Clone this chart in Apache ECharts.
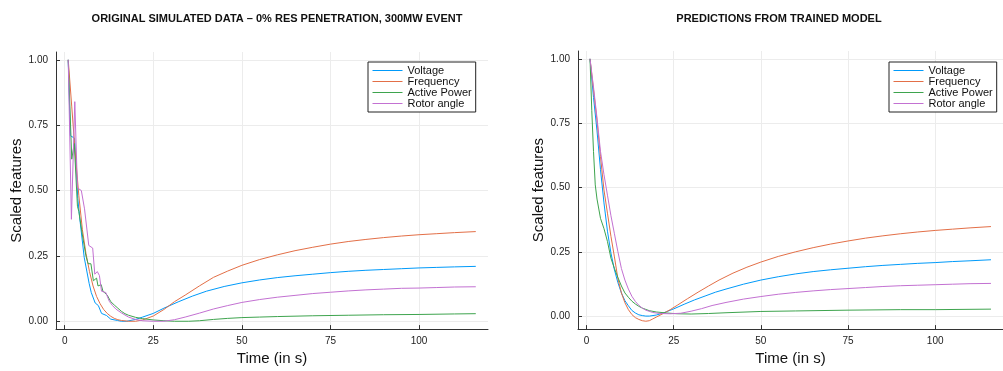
<!DOCTYPE html>
<html>
<head>
<meta charset="utf-8">
<script src="https://cdn.jsdelivr.net/npm/echarts@6/dist/echarts.min.js"></script>
<style>
  html, body { margin: 0; padding: 0; background: #fff; }
  #chart { width: 1003px; height: 371px; }
</style>
</head>
<body>
<div id="chart"></div>
<script>
// Feature names, shared by both panels
const seriesNames = ['Voltage', 'Frequency', 'Active Power', 'Rotor angle'];
const seriesColors = ['#009AFA', '#E36F47', '#3EA44E', '#C371D2'];

// Tick values
const xTicks = [0, 25, 50, 75, 100];
const yTicks = [0, 0.25, 0.5, 0.75, 1.0];

// Panel titles
const titleLeft = 'ORIGINAL SIMULATED DATA \u2013 0% RES PENETRATION, 300MW EVENT';
const titleRight = 'PREDICTIONS FROM TRAINED MODEL';

// Original simulated data: [time (s), scaled value]
const origVoltage = [[1,1.0],[1.6,0.71],[2.8,0.70],[3.7,0.47],[4.2,0.40],[5.5,0.245],[6.9,0.145],[7.5,0.11],[8.6,0.07],[9.5,0.06],[10.4,0.03],[11.8,0.022],[13,0.008],[14.9,0.003],[16,0.0],[17.5,0.0],[20,0.007],[22,0.016],[25,0.03],[28,0.05],[32,0.074],[36,0.096],[40,0.115],[45,0.133],[50,0.147],[55,0.158],[60,0.167],[65,0.174],[70,0.18],[75,0.186],[80,0.191],[85,0.195],[90,0.198],[95,0.201],[100,0.204],[105,0.206],[110,0.208],[116,0.21]];
const origFrequency = [[1,1.0],[2,0.82],[3,0.64],[4,0.48],[5,0.35],[6,0.26],[7,0.19],[8,0.135],[9,0.095],[10,0.067],[11,0.045],[12,0.03],[13,0.019],[14,0.011],[15,0.006],[16,0.003],[18,0.0],[20,0.0],[22,0.005],[25,0.02],[28,0.045],[31,0.075],[34,0.1],[38,0.135],[42,0.168],[46,0.192],[50,0.214],[55,0.236],[60,0.254],[65,0.27],[70,0.283],[75,0.295],[80,0.305],[85,0.313],[90,0.32],[95,0.326],[100,0.331],[105,0.335],[110,0.339],[116,0.343]];
const origActivePower = [[1,1.0],[2,0.62],[2.7,0.68],[3.6,0.44],[4,0.42],[5,0.33],[6,0.25],[6.6,0.22],[7.4,0.22],[8.1,0.155],[9,0.165],[9.4,0.135],[10.3,0.14],[10.8,0.115],[12,0.10],[13,0.075],[14,0.062],[15,0.05],[16,0.038],[17,0.029],[18,0.023],[20,0.015],[22,0.01],[25,0.005],[28,0.002],[31,0.0],[35,0.0],[38,0.002],[42,0.007],[46,0.011],[50,0.014],[55,0.016],[60,0.018],[70,0.021],[80,0.023],[90,0.025],[100,0.026],[110,0.028],[116,0.029]];
const origRotorAngle = [[1,1.0],[1.9,0.39],[2.85,0.84],[3.6,0.51],[4.1,0.51],[4.7,0.50],[5.6,0.43],[6.8,0.29],[7.9,0.28],[8.5,0.18],[9.2,0.19],[9.8,0.175],[10.4,0.115],[11.6,0.11],[12.6,0.076],[13.5,0.06],[14.5,0.046],[16,0.032],[18,0.016],[20,0.007],[22,0.002],[25,0.0],[28,0.0],[31,0.006],[34,0.016],[38,0.031],[42,0.047],[46,0.06],[50,0.072],[55,0.083],[60,0.092],[65,0.099],[70,0.106],[75,0.111],[80,0.116],[85,0.12],[90,0.123],[95,0.126],[100,0.127],[105,0.129],[110,0.131],[116,0.132]];

// Trained model predictions: [time (s), scaled value]
const predVoltage = [[1,1.0],[2,0.85],[3,0.72],[4,0.57],[5,0.44],[6,0.33],[7,0.245],[8,0.18],[9,0.13],[10,0.09],[11,0.06],[12,0.04],[13,0.022],[14,0.012],[15,0.005],[16,0.002],[17,0.0],[18,0.0],[20,0.004],[22,0.012],[25,0.028],[28,0.046],[31,0.063],[34,0.078],[37,0.093],[40,0.105],[45,0.124],[50,0.14],[55,0.153],[60,0.164],[65,0.173],[70,0.18],[75,0.186],[80,0.192],[85,0.197],[90,0.201],[95,0.205],[100,0.208],[105,0.212],[110,0.215],[116,0.219]];
const predFrequency = [[1,1.0],[2,0.88],[3,0.76],[4,0.62],[5,0.49],[6,0.40],[7,0.31],[8,0.23],[9,0.145],[10,0.09],[11,0.052],[12,0.025],[13,0.006],[14,-0.006],[15,-0.013],[16,-0.018],[17,-0.02],[18,-0.018],[19,-0.011],[20,-0.004],[22,0.01],[24,0.025],[26,0.042],[29,0.068],[32,0.093],[35,0.117],[38,0.14],[42,0.167],[46,0.19],[50,0.21],[55,0.232],[60,0.25],[65,0.266],[70,0.28],[75,0.292],[80,0.303],[85,0.312],[90,0.32],[95,0.327],[100,0.333],[105,0.338],[110,0.343],[116,0.348]];
const predActivePower = [[1,1.0],[1.5,0.80],[2,0.64],[2.5,0.51],[3,0.455],[4,0.38],[5,0.34],[6,0.29],[7,0.225],[8,0.185],[9,0.15],[10,0.117],[11,0.09],[12,0.073],[13,0.058],[14,0.047],[15,0.038],[16,0.031],[17,0.026],[18,0.021],[20,0.016],[23,0.012],[26,0.009],[30,0.008],[35,0.01],[40,0.013],[50,0.018],[60,0.02],[75,0.023],[90,0.025],[100,0.025],[116,0.027]];
const predRotorAngle = [[1,1.0],[2,0.89],[3,0.77],[4,0.64],[5,0.55],[6,0.47],[7,0.39],[8,0.32],[9,0.25],[10,0.185],[11,0.14],[12,0.105],[13,0.077],[14,0.057],[15,0.042],[16,0.031],[17,0.023],[19,0.014],[21,0.01],[24,0.009],[27,0.011],[30,0.019],[33,0.029],[36,0.041],[40,0.053],[45,0.066],[50,0.076],[55,0.085],[60,0.092],[65,0.098],[70,0.103],[75,0.107],[80,0.111],[85,0.115],[90,0.118],[95,0.12],[100,0.122],[105,0.124],[110,0.126],[116,0.127]];

const leftData = [origVoltage, origFrequency, origActivePower, origRotorAngle];
const rightData = [predVoltage, predFrequency, predActivePower, predRotorAngle];

const FONT = '"Liberation Sans", Arial, sans-serif';
const axisColor = '#333333';
const gridColor = '#ececec';

function makeXAxis(gridIndex) {
  return {
    type: 'value', gridIndex: gridIndex, min: -2.45, max: 119.45,
    name: 'Time (in s)', nameLocation: 'middle', nameGap: 19,
    nameTextStyle: { fontFamily: FONT, fontSize: 15, color: '#111' },
    axisLine: { show: true, onZero: false, lineStyle: { color: axisColor, width: 1 } },
    axisTick: { show: true, inside: true, length: 4, customValues: xTicks, lineStyle: { color: axisColor } },
    axisLabel: { customValues: xTicks, fontFamily: FONT, fontSize: 10, color: '#222', margin: 7 },
    splitLine: { show: true, lineStyle: { color: gridColor, width: 1 } }
  };
}
function makeYAxis(gridIndex, min, max) {
  return {
    type: 'value', gridIndex: gridIndex, min: min, max: max,
    name: 'Scaled features', nameLocation: 'middle', nameGap: 32,
    nameTextStyle: { fontFamily: FONT, fontSize: 15, color: '#111' },
    axisLine: { show: true, onZero: false, lineStyle: { color: axisColor, width: 1 } },
    axisTick: { show: true, inside: true, length: 4, customValues: yTicks, lineStyle: { color: axisColor } },
    axisLabel: { customValues: yTicks, fontFamily: FONT, fontSize: 10, color: '#222', margin: 8,
      formatter: v => v.toFixed(2) },
    splitLine: { show: true, lineStyle: { color: gridColor, width: 1 } }
  };
}
function makeLegend(left) {
  return {
    data: seriesNames, orient: 'vertical', left: left, top: 62,
    backgroundColor: '#fff', borderColor: '#222', borderWidth: 1,
    padding: [3, 4, 3, 4], itemGap: 0, itemWidth: 30, itemHeight: 10.7,
    textStyle: { fontFamily: FONT, fontSize: 11, color: '#111', lineHeight: 10.7 },
    lineStyle: { width: 1 },
    itemStyle: { opacity: 0 }
  };
}
function makeSeries(data, idx) {
  return data.map((d, i) => ({
    name: seriesNames[i], type: 'line', xAxisIndex: idx, yAxisIndex: idx,
    data: d, symbol: 'none', showSymbol: false, silent: true,
    lineStyle: { color: seriesColors[i], width: 1 },
    itemStyle: { color: seriesColors[i] },
    z: 2
  }));
}

const chart = echarts.init(document.getElementById('chart'), null, { renderer: 'canvas' });
chart.setOption({
  animation: false,
  backgroundColor: '#ffffff',
  color: seriesColors,
  title: [
    { text: titleLeft, left: 272, top: 8, textAlign: 'center',
      textStyle: { fontFamily: FONT, fontSize: 11, fontWeight: 'bold', color: '#111' } },
    { text: titleRight, left: 774, top: 8, textAlign: 'center',
      textStyle: { fontFamily: FONT, fontSize: 11, fontWeight: 'bold', color: '#111' } }
  ],
  legend: [makeLegend(368), makeLegend(889)],
  grid: [
    { left: 56, top: 52, width: 432, height: 283, containLabel: false },
    { left: 578, top: 51, width: 433, height: 284, containLabel: false }
  ],
  xAxis: [makeXAxis(0), makeXAxis(1)],
  yAxis: [makeYAxis(0, -0.03, 1.03), makeYAxis(1, -0.0506, 1.0306)],
  series: makeSeries(leftData, 0).concat(makeSeries(rightData, 1))
});
</script>
</body>
</html>
